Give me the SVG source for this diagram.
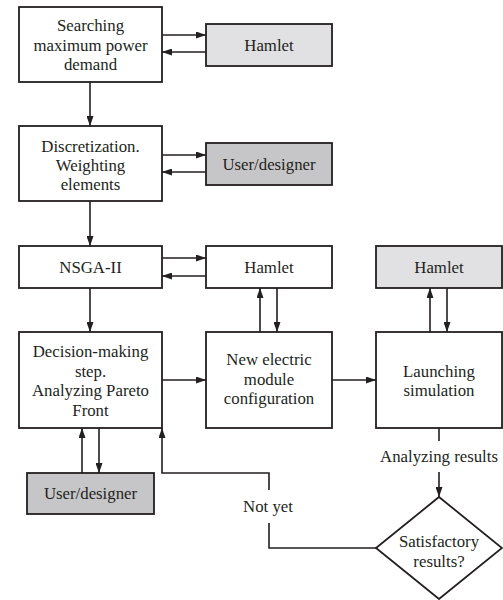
<svg xmlns="http://www.w3.org/2000/svg" width="503" height="600" viewBox="0 0 503 600">
<style>
.box{fill:#ffffff;stroke:#231f20;stroke-width:1.8}
.lt{fill:#e1e1e3}
.dk{fill:#c6c6c8}
text{font-family:"Liberation Serif","Times New Roman",serif;font-size:16.8px;fill:#231f20;text-anchor:middle}
.c{fill:none;stroke:#231f20;stroke-width:1.6}
.a{marker-end:url(#ah)}
</style>
<defs>
<marker id="ah" markerUnits="userSpaceOnUse" markerWidth="10" markerHeight="7" refX="10" refY="3.5" orient="auto">
<path d="M0,0 L10,3.5 L0,7 z" fill="#231f20"/>
</marker>
</defs>
<rect width="503" height="600" fill="#ffffff"/>
<g id="connectors">
<path class="c a" d="M162,35 H206"/>
<path class="c a" d="M206,52 H162"/>
<path class="c a" d="M90,82 V126"/>
<path class="c a" d="M162,155 H206"/>
<path class="c a" d="M206,172 H162"/>
<path class="c a" d="M90,201 V246"/>
<path class="c a" d="M162,258 H206"/>
<path class="c a" d="M206,276 H162"/>
<path class="c a" d="M90,288 V332"/>
<path class="c a" d="M260,332 V288"/>
<path class="c a" d="M277,288 V332"/>
<path class="c a" d="M430,332 V288"/>
<path class="c a" d="M447,288 V332"/>
<path class="c a" d="M162,380 H206"/>
<path class="c a" d="M332,380 H376"/>
<path class="c a" d="M82,473 V428"/>
<path class="c a" d="M99,428 V473"/>
<path class="c" d="M439,428 V441"/>
<path class="c a" d="M439,472 V497"/>
<path class="c" d="M376,548 H269 V523"/>
<path class="c a" d="M269,490 V473 H162 V428"/>
<text x="439" y="462">Analyzing results</text>
<text x="268" y="512">Not yet</text>
</g>
<g id="searching">
<rect class="box" x="19" y="7" width="143" height="75"/>
<text x="90.5" y="31">Searching</text>
<text x="90.5" y="51">maximum power</text>
<text x="90.5" y="70">demand</text>
</g>
<g id="hamlet1">
<rect class="box lt" x="206" y="24" width="126" height="42"/>
<text x="269" y="51">Hamlet</text>
</g>
<g id="discretization">
<rect class="box" x="19" y="126" width="143" height="75"/>
<text x="90.5" y="152">Discretization.</text>
<text x="90.5" y="171">Weighting</text>
<text x="90.5" y="190">elements</text>
</g>
<g id="user1">
<rect class="box dk" x="206" y="143" width="126" height="42"/>
<text x="269" y="170">User/designer</text>
</g>
<g id="nsga">
<rect class="box" x="19" y="246" width="143" height="42"/>
<text x="90.5" y="273">NSGA-II</text>
</g>
<g id="hamlet2">
<rect class="box" x="206" y="246" width="126" height="42"/>
<text x="269" y="273">Hamlet</text>
</g>
<g id="hamlet3">
<rect class="box lt" x="376" y="246" width="126" height="42"/>
<text x="439" y="273">Hamlet</text>
</g>
<g id="decision">
<rect class="box" x="19" y="332" width="143" height="96"/>
<text x="90.5" y="357">Decision-making</text>
<text x="90.5" y="377">step.</text>
<text x="90.5" y="396">Analyzing Pareto</text>
<text x="90.5" y="416">Front</text>
</g>
<g id="newelectric">
<rect class="box" x="206" y="332" width="126" height="96"/>
<text x="269" y="365">New electric</text>
<text x="269" y="385">module</text>
<text x="269" y="404">configuration</text>
</g>
<g id="launching">
<rect class="box" x="376" y="332" width="126" height="96"/>
<text x="439" y="377">Launching</text>
<text x="439" y="396">simulation</text>
</g>
<g id="user2">
<rect class="box dk" x="27" y="473" width="127" height="41"/>
<text x="90.5" y="499">User/designer</text>
</g>
<g id="satisfactory">
<path class="box" d="M439,497 L502,548 L439,599 L376,548 z"/>
<text x="439" y="547">Satisfactory</text>
<text x="439" y="567">results?</text>
</g>
</svg>
